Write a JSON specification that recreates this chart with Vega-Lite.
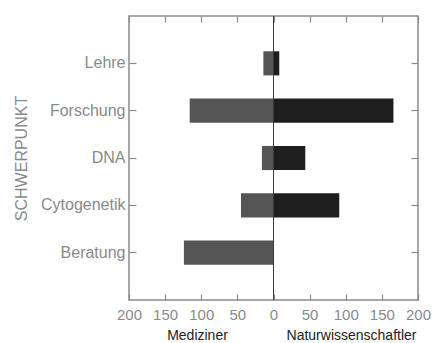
{
  "$schema": "https://vega.github.io/schema/vega-lite/v6.json",
  "width": 289,
  "height": 284,
  "autosize": {"type": "pad"},
  "padding": {"left": 13, "top": 15, "right": 14, "bottom": 2},
  "background": "white",
  "config": {
    "font": "Liberation Sans",
    "view": {"stroke": "#8a8a8a", "strokeWidth": 1.5},
    "axis": {"grid": false, "domain": false, "tickColor": "#8a8a8a", "tickWidth": 1.2}
  },
  "data": {
    "values": [
      {"Schwerpunkt": "Lehre", "Gruppe": "Mediziner", "Wert": -14},
      {"Schwerpunkt": "Lehre", "Gruppe": "Naturwissenschaftler", "Wert": 8},
      {"Schwerpunkt": "Forschung", "Gruppe": "Mediziner", "Wert": -116},
      {"Schwerpunkt": "Forschung", "Gruppe": "Naturwissenschaftler", "Wert": 166},
      {"Schwerpunkt": "DNA", "Gruppe": "Mediziner", "Wert": -16},
      {"Schwerpunkt": "DNA", "Gruppe": "Naturwissenschaftler", "Wert": 44},
      {"Schwerpunkt": "Cytogenetik", "Gruppe": "Mediziner", "Wert": -45},
      {"Schwerpunkt": "Cytogenetik", "Gruppe": "Naturwissenschaftler", "Wert": 91},
      {"Schwerpunkt": "Beratung", "Gruppe": "Mediziner", "Wert": -124},
      {"Schwerpunkt": "Beratung", "Gruppe": "Naturwissenschaftler", "Wert": 0}
    ]
  },
  "resolve": {"axis": {"x": "independent", "y": "independent"}},
  "layer": [
    {
      "mark": {"type": "bar"},
      "encoding": {
        "y": {
          "field": "Schwerpunkt",
          "type": "nominal",
          "sort": ["Lehre", "Forschung", "DNA", "Cytogenetik", "Beratung"],
          "scale": {"paddingInner": 0.49, "paddingOuter": 0.745},
          "axis": {
            "orient": "left",
            "title": "SCHWERPUNKT",
            "titleFontSize": 16,
            "titleFontWeight": "normal",
            "titleColor": "#8a8a8a",
            "titlePadding": 11,
            "labelFontSize": 16,
            "labelColor": "#8a8a8a",
            "tickSize": -7,
            "labelPadding": 11
          }
        },
        "x": {
          "field": "Wert",
          "type": "quantitative",
          "scale": {"domain": [-200, 200], "nice": false},
          "axis": {
            "orient": "bottom",
            "values": [-200, -150, -100, -50, 0, 50, 100, 150, 200],
            "labelExpr": "format(abs(datum.value), 'd')",
            "labelFontSize": 15,
            "labelColor": "#8a8a8a",
            "labelFlush": false,
            "labelOverlap": false,
            "tickSize": -6,
            "labelPadding": 13,
            "title": "Mediziner",
            "titleFontSize": 14,
            "titleFontWeight": "normal",
            "titleColor": "#222222",
            "titleX": 68,
            "titleY": 39,
            "titleAlign": "center",
            "titleBaseline": "alphabetic"
          }
        },
        "color": {
          "field": "Gruppe",
          "type": "nominal",
          "scale": {"domain": ["Mediziner", "Naturwissenschaftler"], "range": ["#555555", "#1e1e1e"]},
          "legend": null
        }
      }
    },
    {
      "mark": {"type": "rule", "color": "#3a3a3a", "strokeWidth": 1},
      "encoding": {
        "x": {
          "datum": 0,
          "type": "quantitative",
          "axis": {
            "orient": "bottom",
            "ticks": false,
            "labels": false,
            "title": "Naturwissenschaftler",
            "titleFontSize": 14,
            "titleFontWeight": "normal",
            "titleColor": "#222222",
            "titleX": 222,
            "titleY": 39,
            "titleAlign": "center",
            "titleBaseline": "alphabetic"
          }
        }
      }
    },
    {
      "mark": {"type": "tick", "opacity": 0},
      "encoding": {
        "y": {
          "field": "Schwerpunkt",
          "type": "nominal",
          "sort": ["Lehre", "Forschung", "DNA", "Cytogenetik", "Beratung"],
          "axis": {"orient": "right", "labels": false, "title": null, "tickSize": -7}
        },
        "x": {
          "field": "Wert",
          "type": "quantitative",
          "axis": {
            "orient": "top",
            "values": [-200, -150, -100, -50, 0, 50, 100, 150, 200],
            "labels": false,
            "title": null,
            "tickSize": -6
          }
        }
      }
    }
  ]
}
